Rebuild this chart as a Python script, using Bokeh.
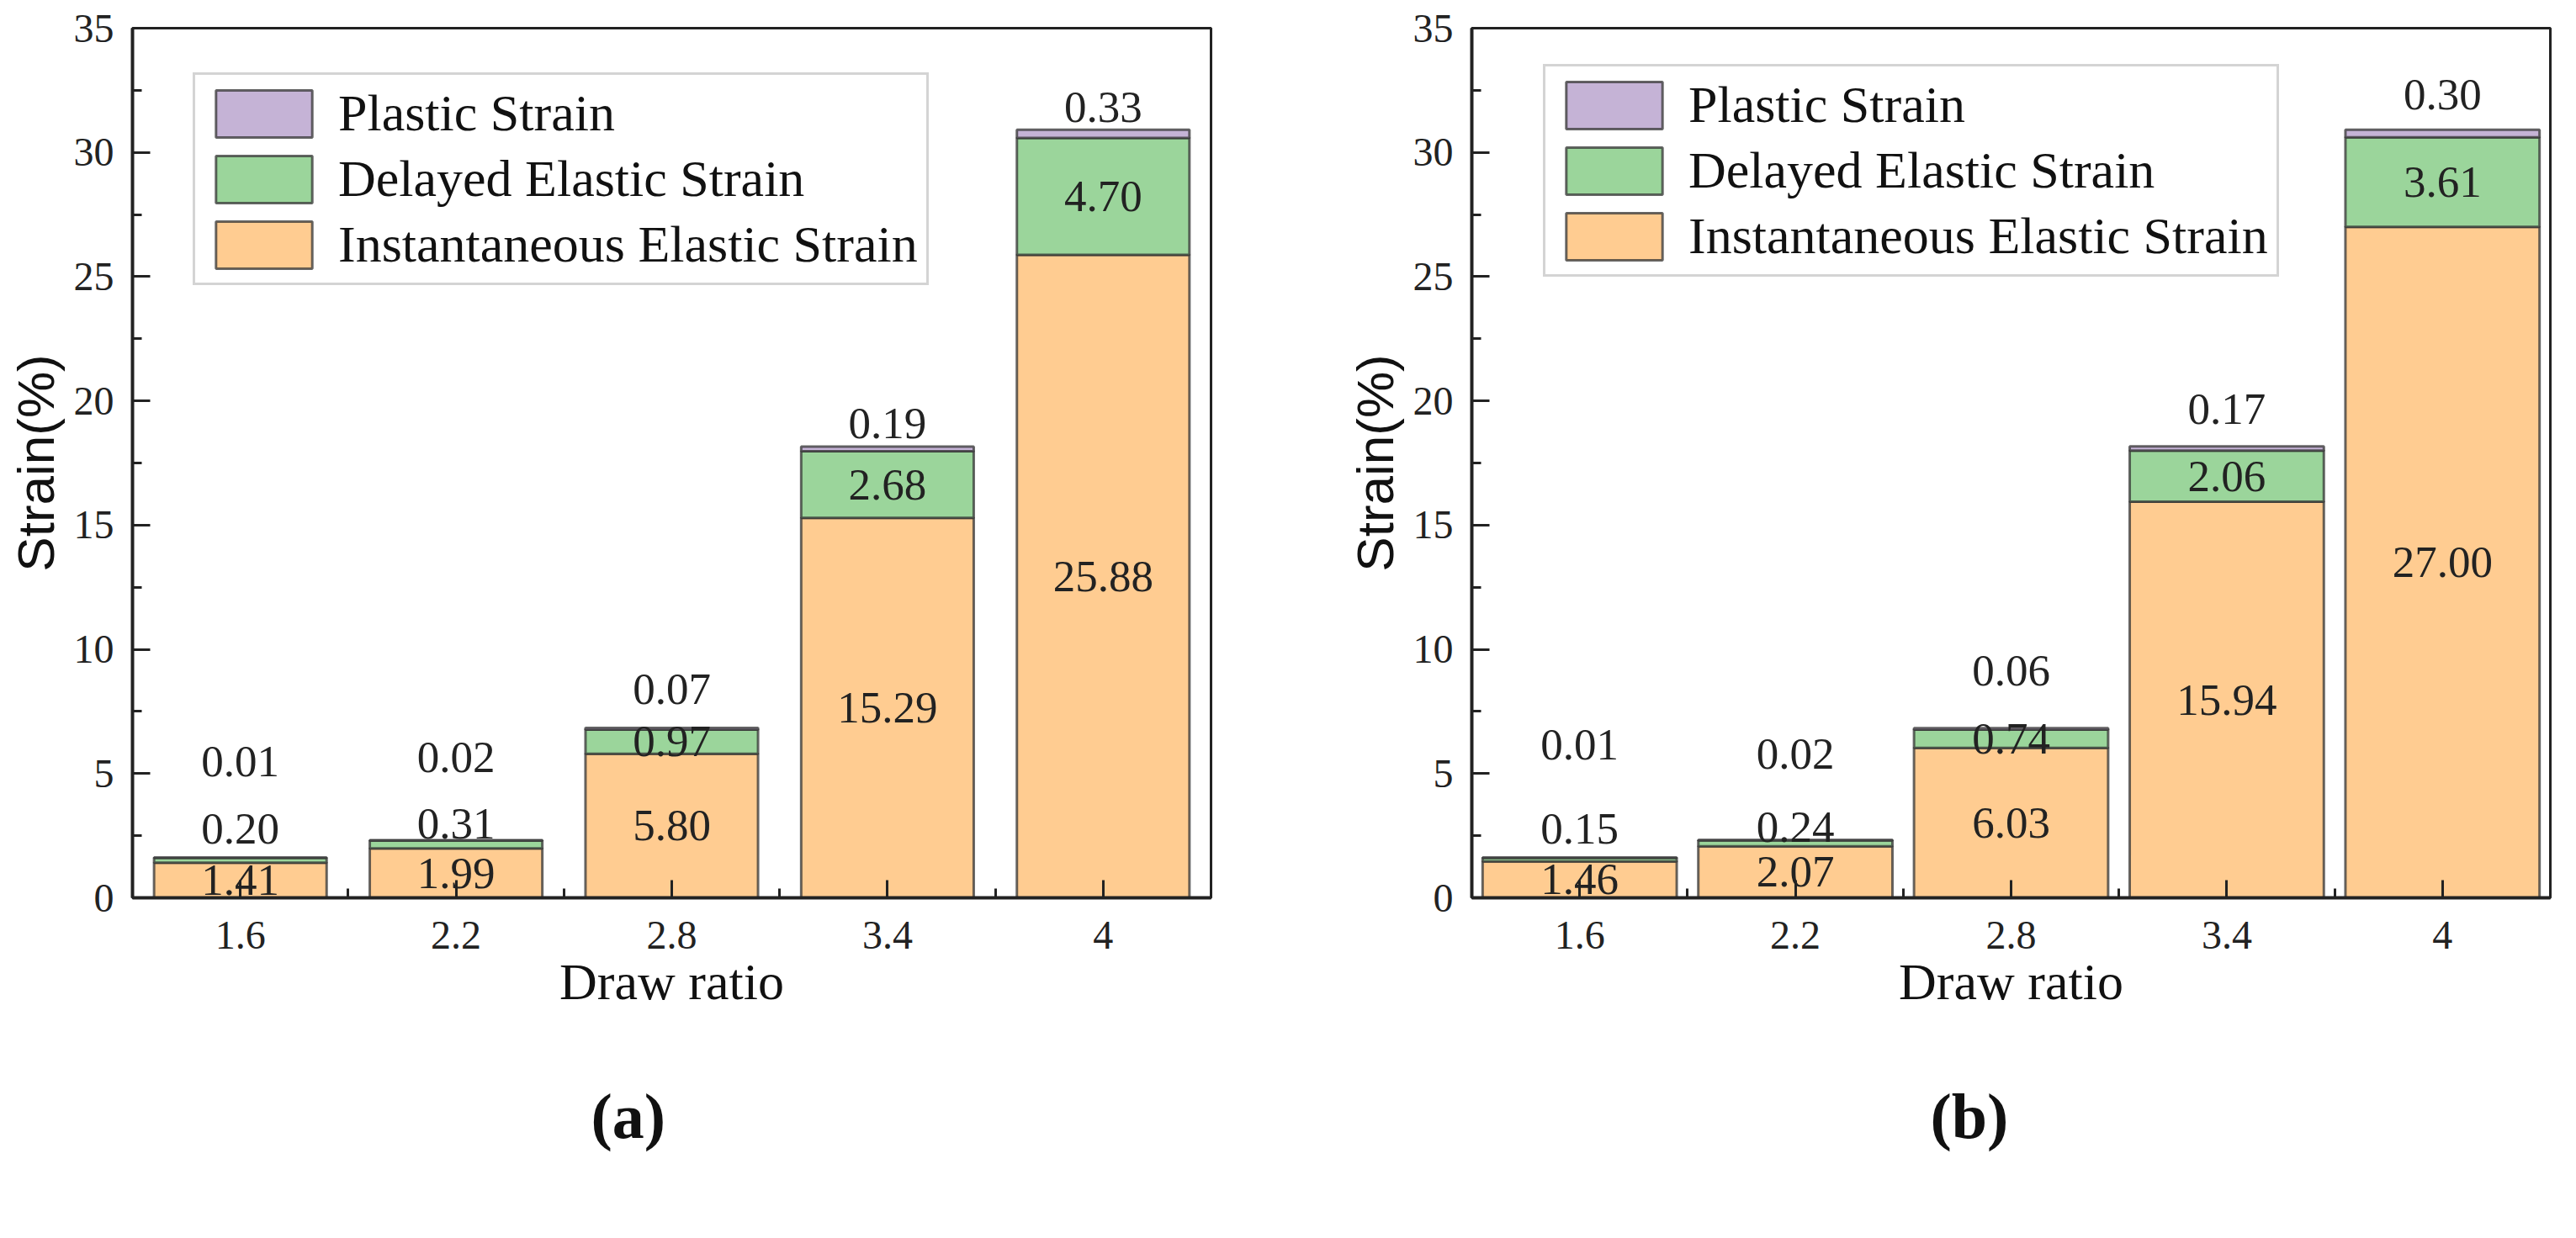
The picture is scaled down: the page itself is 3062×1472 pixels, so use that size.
from bokeh.plotting import figure
from bokeh.layouts import row
from bokeh.models import (ColumnDataSource, Range1d, FixedTicker, Legend, LegendItem, Title)
from bokeh.core.properties import value
from bokeh.embed import file_html
from bokeh.resources import INLINE

# ---------------- data ----------------
draw_ratios = ["1.6", "2.2", "2.8", "3.4", "4"]

a_instantaneous = [1.41, 1.99, 5.80, 15.29, 25.88]
a_delayed = [0.20, 0.31, 0.97, 2.68, 4.70]
a_plastic = [0.01, 0.02, 0.07, 0.19, 0.33]

b_instantaneous = [1.46, 2.07, 6.03, 15.94, 27.00]
b_delayed = [0.15, 0.24, 0.74, 2.06, 3.61]
b_plastic = [0.01, 0.02, 0.06, 0.17, 0.30]

y_ticks = [0, 5, 10, 15, 20, 25, 30, 35]

# ---------------- style ----------------
C_PLASTIC = "#C5B3D6"
C_DELAYED = "#9BD59B"
C_INST = "#FFCC91"
SERIF = "Liberation Serif"
SANS = "Liberation Sans"


def make_panel(inst, dela, plast, tag, bar_width, plastic_gap, delayed_gap,
               legend_loc, width, border_left, border_right):
    n = len(draw_ratios)
    xs = list(range(n))
    t1 = inst
    b2 = t1
    t2 = [t1[i] + dela[i] for i in range(n)]
    b3 = t2
    t3 = [t2[i] + plast[i] for i in range(n)]

    src = ColumnDataSource(dict(x=xs, b1=[0] * n, t1=t1, b2=b2, t2=t2, b3=b3, t3=t3))

    p = figure(width=width, height=1456, output_backend="svg", toolbar_location=None,
               x_range=Range1d(-0.5, n - 0.5), y_range=Range1d(0, 35),
               min_border_left=border_left, min_border_right=border_right,
               min_border_top=33, min_border_bottom=389)
    p.background_fill_color = "white"
    p.border_fill_color = "white"
    p.grid.visible = False
    p.outline_line_color = "#222222"
    p.outline_line_width = 3

    line_kw = dict(line_color="#333333", line_width=3, line_alpha=0.75)
    r_inst = p.vbar(x="x", width=bar_width, bottom="b1", top="t1", source=src,
                    fill_color=C_INST, **line_kw)
    r_del = p.vbar(x="x", width=bar_width, bottom="b2", top="t2", source=src,
                   fill_color=C_DELAYED, **line_kw)
    r_pl = p.vbar(x="x", width=bar_width, bottom="b3", top="t3", source=src,
                  fill_color=C_PLASTIC, **line_kw)

    # value labels
    txt_kw = dict(text_align="center", text_baseline="middle",
                  text_font=value(SERIF), text_font_size=value("53px"), text_color="#222222")
    # instantaneous: centred in segment
    p.text(x=xs, y=[v / 2 for v in inst], text=["%.2f" % v for v in inst], **txt_kw)
    # delayed: centred if tall, otherwise above the bar
    n_small = len(delayed_gap)
    p.text(x=xs[n_small:], y=[t1[i] + dela[i] / 2 for i in range(n_small, n)],
           text=["%.2f" % dela[i] for i in range(n_small, n)], **txt_kw)
    p.text(x=xs[:n_small], y=t3[:n_small], text=["%.2f" % dela[i] for i in range(n_small)],
           y_offset=[-g for g in delayed_gap], **txt_kw)
    # plastic: above the bar
    p.text(x=xs, y=t3, text=["%.2f" % v for v in plast],
           y_offset=[-g for g in plastic_gap], **txt_kw)

    # axes
    p.xaxis.ticker = FixedTicker(ticks=xs, minor_ticks=[i + 0.5 for i in xs[:-1]])
    p.xaxis.major_label_overrides = {i: draw_ratios[i] for i in xs}
    p.yaxis.ticker = FixedTicker(ticks=y_ticks, minor_ticks=[t + 2.5 for t in y_ticks[:-1]])
    for ax in (p.xaxis, p.yaxis):
        ax.axis_line_color = "#222222"
        ax.axis_line_width = 4
        ax.major_tick_in = 21
        ax.major_tick_out = 0
        ax.minor_tick_in = 11
        ax.minor_tick_out = 0
        ax.major_tick_line_color = "#222222"
        ax.major_tick_line_width = 3
        ax.minor_tick_line_color = "#222222"
        ax.minor_tick_line_width = 3
        ax.major_label_text_font = SERIF
        ax.major_label_text_font_size = "48px"
        ax.major_label_text_color = "#222222"
        ax.axis_label_text_font_style = "normal"
        ax.axis_label_text_color = "#111111"
    p.xaxis.axis_label = "Draw ratio"
    p.xaxis.axis_label_text_font = SERIF
    p.xaxis.axis_label_text_font_size = "62px"
    p.xaxis.major_label_standoff = 28
    p.xaxis.axis_label_standoff = 2
    p.yaxis.axis_label = "Strain(%)"
    p.yaxis.axis_label_text_font = SANS
    p.yaxis.axis_label_text_font_size = "62px"
    p.yaxis.major_label_standoff = 22
    p.yaxis.axis_label_standoff = 8

    legend = Legend(items=[LegendItem(label="Plastic Strain", renderers=[r_pl]),
                           LegendItem(label="Delayed Elastic Strain", renderers=[r_del]),
                           LegendItem(label="Instantaneous Elastic Strain", renderers=[r_inst])],
                    location=legend_loc)
    legend.label_text_font = SERIF
    legend.label_text_font_size = "62px"
    legend.label_text_color = "#111111"
    legend.glyph_width = 143
    legend.glyph_height = 70
    legend.label_height = 70
    legend.spacing = 7
    legend.padding = 10
    legend.margin = 0
    legend.label_standoff = 17
    legend.border_line_color = "#aaaaaa"
    legend.border_line_width = 3
    legend.background_fill_color = "white"
    legend.background_fill_alpha = 1.0
    p.add_layout(legend)

    tag_title = Title(text=tag, align="left", vertical_align="top", text_font=SERIF,
                      text_font_size="76px", text_font_style="bold", text_color="#111111",
                      standoff=163, offset=545)
    p.add_layout(tag_title, "below")
    return p


pa = make_panel(a_instantaneous, a_delayed, a_plastic, "(a)", 0.8,
                plastic_gap=[114, 98, 46, 28, 27], delayed_gap=[34, 19],
                legend_loc=(72, 728), width=1523, border_left=157, border_right=84)
pb = make_panel(b_instantaneous, b_delayed, b_plastic, "(b)", 0.9,
                plastic_gap=[134, 102, 68, 44, 42], delayed_gap=[34, 15],
                legend_loc=(85, 738), width=1515, border_left=226, border_right=7)

layout = row(pa, pb)
open("out.html", "w").write(file_html(layout, INLINE))
